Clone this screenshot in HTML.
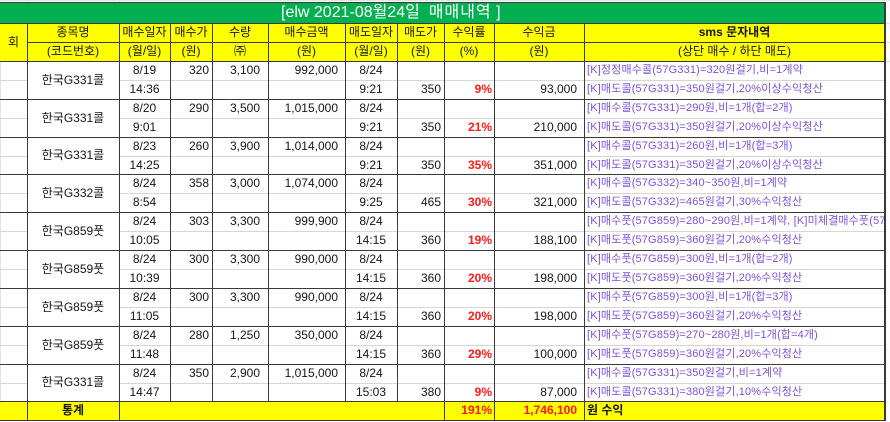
<!DOCTYPE html>
<html><head><meta charset="utf-8">
<style>
*{margin:0;padding:0;box-sizing:border-box}
body{width:890px;height:422px;background:#fff;position:relative;overflow:hidden;font-family:"Liberation Sans","Noto Sans CJK KR",sans-serif}
div{position:absolute}
.t{font-size:12px;line-height:19px;height:19px;white-space:nowrap;color:#151515}
.c{text-align:center}
.r{text-align:right}
.red{color:#ff1a1a;font-weight:bold}
.b{font-weight:bold}
.s{font-size:11px;color:#7d52d6;left:587px;width:297px;overflow:hidden;letter-spacing:0.15px}
.h{background:#3a3a3a;height:1px}
.v{background:#3a3a3a;width:1px}
.lh{background:#d6d6d6;height:1px}
.g{background:#e2e2e2}
</style></head><body>
<div class="g" style="left:0;top:0;width:890px;height:1px"></div>
<div class="g" style="left:27px;top:0;width:1px;height:3px"></div>
<div class="g" style="left:119px;top:0;width:1px;height:3px"></div>
<div class="g" style="left:886px;top:23px;width:4px;height:1px"></div>
<div class="g" style="left:886px;top:42px;width:4px;height:1px"></div>
<div class="g" style="left:886px;top:61px;width:4px;height:1px"></div>
<div class="g" style="left:0;top:61px;width:1px;height:340px"></div>

<div style="left:0;top:2px;width:886px;height:22px;background:#00b050"></div>
<div class="h" style="left:0;top:2px;width:886px"></div>
<div style="left:281px;top:3px;height:20px;line-height:20px;font-size:16px;color:#fff;white-space:nowrap">[elw 2021-08월24일&nbsp; <span style="letter-spacing:1px">매매내역</span> ]</div>

<div style="left:0;top:23px;width:886px;height:38px;background:#ffff00"></div>
<div class="t c" style="left:0;top:23px;width:27px;height:38px;line-height:38px">회</div>
<div class="t c" style="left:27px;top:23px;width:92px">종목명</div>
<div class="t c" style="left:119px;top:23px;width:51px">매수일자</div>
<div class="t c" style="left:170px;top:23px;width:42px">매수가</div>
<div class="t c" style="left:212px;top:23px;width:56px">수량</div>
<div class="t c" style="left:268px;top:23px;width:77px">매수금액</div>
<div class="t c" style="left:345px;top:23px;width:52px">매도일자</div>
<div class="t c" style="left:397px;top:23px;width:47px">매도가</div>
<div class="t c" style="left:444px;top:23px;width:50px">수익률</div>
<div class="t c" style="left:494px;top:23px;width:90px">수익금</div>
<div class="t c b" style="left:584px;top:23px;width:301px">sms 문자내역</div>
<div class="t c" style="left:27px;top:42px;width:92px">(코드번호)</div>
<div class="t c" style="left:119px;top:42px;width:51px">(월/일)</div>
<div class="t c" style="left:170px;top:42px;width:42px">(원)</div>
<div class="t c" style="left:212px;top:42px;width:56px">㈜</div>
<div class="t c" style="left:268px;top:42px;width:77px">(원)</div>
<div class="t c" style="left:345px;top:42px;width:52px">(월/일)</div>
<div class="t c" style="left:397px;top:42px;width:47px">(원)</div>
<div class="t c" style="left:444px;top:42px;width:50px">(%)</div>
<div class="t c" style="left:494px;top:42px;width:90px">(원)</div>
<div class="t c" style="left:584px;top:42px;width:301px">(상단 매수 / 하단 매도)</div>

<div style="left:0;top:401px;width:886px;height:19px;background:#ffff00"></div>
<div class="t c b" style="left:27px;top:401px;width:92px">통계</div>
<div class="t r red" style="left:444px;top:401px;width:48px">191%</div>
<div class="t r red" style="left:494px;top:401px;width:83px">1,746,100</div>
<div class="t b" style="left:587px;top:401px">원 수익</div>

<div class="lh" style="left:0;top:80px;width:27px"></div><div class="lh" style="left:119px;top:80px;width:766px"></div>
<div class="lh" style="left:0;top:118px;width:27px"></div><div class="lh" style="left:119px;top:118px;width:766px"></div>
<div class="lh" style="left:0;top:156px;width:27px"></div><div class="lh" style="left:119px;top:156px;width:766px"></div>
<div class="lh" style="left:0;top:193px;width:27px"></div><div class="lh" style="left:119px;top:193px;width:766px"></div>
<div class="lh" style="left:0;top:231px;width:27px"></div><div class="lh" style="left:119px;top:231px;width:766px"></div>
<div class="lh" style="left:0;top:269px;width:27px"></div><div class="lh" style="left:119px;top:269px;width:766px"></div>
<div class="lh" style="left:0;top:307px;width:27px"></div><div class="lh" style="left:119px;top:307px;width:766px"></div>
<div class="lh" style="left:0;top:345px;width:27px"></div><div class="lh" style="left:119px;top:345px;width:766px"></div>
<div class="lh" style="left:0;top:383px;width:27px"></div><div class="lh" style="left:119px;top:383px;width:766px"></div>

<div class="t c" style="left:27px;top:61px;width:92px;height:38px;line-height:38px">한국G331콜</div>
<div class="t c" style="left:119px;top:61px;width:51px">8/19</div>
<div class="t c" style="left:119px;top:80px;width:51px">14:36</div>
<div class="t r" style="left:170px;top:61px;width:39px">320</div>
<div class="t r" style="left:212px;top:61px;width:48px">3,100</div>
<div class="t r" style="left:268px;top:61px;width:70px">992,000</div>
<div class="t c" style="left:345px;top:61px;width:52px">8/24</div>
<div class="t c" style="left:345px;top:80px;width:52px">9:21</div>
<div class="t r" style="left:397px;top:80px;width:44px">350</div>
<div class="t r red" style="left:444px;top:80px;width:48px">9%</div>
<div class="t r" style="left:494px;top:80px;width:83px">93,000</div>
<div class="t s" style="top:61px">[K]정정매수콜(57G331)=320원걸기,비=1계약</div>
<div class="t s" style="top:80px">[K]매도콜(57G331)=350원걸기,20%이상수익청산</div>

<div class="t c" style="left:27px;top:99px;width:92px;height:38px;line-height:38px">한국G331콜</div>
<div class="t c" style="left:119px;top:99px;width:51px">8/20</div>
<div class="t c" style="left:119px;top:118px;width:51px">9:01</div>
<div class="t r" style="left:170px;top:99px;width:39px">290</div>
<div class="t r" style="left:212px;top:99px;width:48px">3,500</div>
<div class="t r" style="left:268px;top:99px;width:70px">1,015,000</div>
<div class="t c" style="left:345px;top:99px;width:52px">8/24</div>
<div class="t c" style="left:345px;top:118px;width:52px">9:21</div>
<div class="t r" style="left:397px;top:118px;width:44px">350</div>
<div class="t r red" style="left:444px;top:118px;width:48px">21%</div>
<div class="t r" style="left:494px;top:118px;width:83px">210,000</div>
<div class="t s" style="top:99px">[K]매수콜(57G331)=290원,비=1개(합=2개)</div>
<div class="t s" style="top:118px">[K]매도콜(57G331)=350원걸기,20%이상수익청산</div>

<div class="t c" style="left:27px;top:137px;width:92px;height:37px;line-height:37px">한국G331콜</div>
<div class="t c" style="left:119px;top:137px;width:51px">8/23</div>
<div class="t c" style="left:119px;top:156px;width:51px">14:25</div>
<div class="t r" style="left:170px;top:137px;width:39px">260</div>
<div class="t r" style="left:212px;top:137px;width:48px">3,900</div>
<div class="t r" style="left:268px;top:137px;width:70px">1,014,000</div>
<div class="t c" style="left:345px;top:137px;width:52px">8/24</div>
<div class="t c" style="left:345px;top:156px;width:52px">9:21</div>
<div class="t r" style="left:397px;top:156px;width:44px">350</div>
<div class="t r red" style="left:444px;top:156px;width:48px">35%</div>
<div class="t r" style="left:494px;top:156px;width:83px">351,000</div>
<div class="t s" style="top:137px">[K]매수콜(57G331)=260원,비=1개(합=3개)</div>
<div class="t s" style="top:156px">[K]매도콜(57G331)=350원걸기,20%이상수익청산</div>

<div class="t c" style="left:27px;top:174px;width:92px;height:38px;line-height:38px">한국G332콜</div>
<div class="t c" style="left:119px;top:174px;width:51px">8/24</div>
<div class="t c" style="left:119px;top:193px;width:51px">8:54</div>
<div class="t r" style="left:170px;top:174px;width:39px">358</div>
<div class="t r" style="left:212px;top:174px;width:48px">3,000</div>
<div class="t r" style="left:268px;top:174px;width:70px">1,074,000</div>
<div class="t c" style="left:345px;top:174px;width:52px">8/24</div>
<div class="t c" style="left:345px;top:193px;width:52px">9:25</div>
<div class="t r" style="left:397px;top:193px;width:44px">465</div>
<div class="t r red" style="left:444px;top:193px;width:48px">30%</div>
<div class="t r" style="left:494px;top:193px;width:83px">321,000</div>
<div class="t s" style="top:174px">[K]매수콜(57G332)=340~350원,비=1계약</div>
<div class="t s" style="top:193px">[K]매도콜(57G332)=465원걸기,30%수익청산</div>

<div class="t c" style="left:27px;top:212px;width:92px;height:38px;line-height:38px">한국G859풋</div>
<div class="t c" style="left:119px;top:212px;width:51px">8/24</div>
<div class="t c" style="left:119px;top:231px;width:51px">10:05</div>
<div class="t r" style="left:170px;top:212px;width:39px">303</div>
<div class="t r" style="left:212px;top:212px;width:48px">3,300</div>
<div class="t r" style="left:268px;top:212px;width:70px">999,900</div>
<div class="t c" style="left:345px;top:212px;width:52px">8/24</div>
<div class="t c" style="left:345px;top:231px;width:52px">14:15</div>
<div class="t r" style="left:397px;top:231px;width:44px">360</div>
<div class="t r red" style="left:444px;top:231px;width:48px">19%</div>
<div class="t r" style="left:494px;top:231px;width:83px">188,100</div>
<div class="t s" style="top:212px">[K]매수풋(57G859)=280~290원,비=1계약, [K]미체결매수풋(57G859)</div>
<div class="t s" style="top:231px">[K]매도풋(57G859)=360원걸기,20%수익청산</div>

<div class="t c" style="left:27px;top:250px;width:92px;height:38px;line-height:38px">한국G859풋</div>
<div class="t c" style="left:119px;top:250px;width:51px">8/24</div>
<div class="t c" style="left:119px;top:269px;width:51px">10:39</div>
<div class="t r" style="left:170px;top:250px;width:39px">300</div>
<div class="t r" style="left:212px;top:250px;width:48px">3,300</div>
<div class="t r" style="left:268px;top:250px;width:70px">990,000</div>
<div class="t c" style="left:345px;top:250px;width:52px">8/24</div>
<div class="t c" style="left:345px;top:269px;width:52px">14:15</div>
<div class="t r" style="left:397px;top:269px;width:44px">360</div>
<div class="t r red" style="left:444px;top:269px;width:48px">20%</div>
<div class="t r" style="left:494px;top:269px;width:83px">198,000</div>
<div class="t s" style="top:250px">[K]매수풋(57G859)=300원,비=1개(합=2개)</div>
<div class="t s" style="top:269px">[K]매도풋(57G859)=360원걸기,20%수익청산</div>

<div class="t c" style="left:27px;top:288px;width:92px;height:38px;line-height:38px">한국G859풋</div>
<div class="t c" style="left:119px;top:288px;width:51px">8/24</div>
<div class="t c" style="left:119px;top:307px;width:51px">11:05</div>
<div class="t r" style="left:170px;top:288px;width:39px">300</div>
<div class="t r" style="left:212px;top:288px;width:48px">3,300</div>
<div class="t r" style="left:268px;top:288px;width:70px">990,000</div>
<div class="t c" style="left:345px;top:288px;width:52px">8/24</div>
<div class="t c" style="left:345px;top:307px;width:52px">14:15</div>
<div class="t r" style="left:397px;top:307px;width:44px">360</div>
<div class="t r red" style="left:444px;top:307px;width:48px">20%</div>
<div class="t r" style="left:494px;top:307px;width:83px">198,000</div>
<div class="t s" style="top:288px">[K]매수풋(57G859)=300원,비=1개(합=3개)</div>
<div class="t s" style="top:307px">[K]매도풋(57G859)=360원걸기,20%수익청산</div>

<div class="t c" style="left:27px;top:326px;width:92px;height:38px;line-height:38px">한국G859풋</div>
<div class="t c" style="left:119px;top:326px;width:51px">8/24</div>
<div class="t c" style="left:119px;top:345px;width:51px">11:48</div>
<div class="t r" style="left:170px;top:326px;width:39px">280</div>
<div class="t r" style="left:212px;top:326px;width:48px">1,250</div>
<div class="t r" style="left:268px;top:326px;width:70px">350,000</div>
<div class="t c" style="left:345px;top:326px;width:52px">8/24</div>
<div class="t c" style="left:345px;top:345px;width:52px">14:15</div>
<div class="t r" style="left:397px;top:345px;width:44px">360</div>
<div class="t r red" style="left:444px;top:345px;width:48px">29%</div>
<div class="t r" style="left:494px;top:345px;width:83px">100,000</div>
<div class="t s" style="top:326px">[K]매수풋(57G859)=270~280원,비=1개(합=4개)</div>
<div class="t s" style="top:345px">[K]매도풋(57G859)=360원걸기,20%수익청산</div>

<div class="t c" style="left:27px;top:364px;width:92px;height:37px;line-height:37px">한국G331콜</div>
<div class="t c" style="left:119px;top:364px;width:51px">8/24</div>
<div class="t c" style="left:119px;top:383px;width:51px">14:47</div>
<div class="t r" style="left:170px;top:364px;width:39px">350</div>
<div class="t r" style="left:212px;top:364px;width:48px">2,900</div>
<div class="t r" style="left:268px;top:364px;width:70px">1,015,000</div>
<div class="t c" style="left:345px;top:364px;width:52px">8/24</div>
<div class="t c" style="left:345px;top:383px;width:52px">15:03</div>
<div class="t r" style="left:397px;top:383px;width:44px">380</div>
<div class="t r red" style="left:444px;top:383px;width:48px">9%</div>
<div class="t r" style="left:494px;top:383px;width:83px">87,000</div>
<div class="t s" style="top:364px">[K]매수콜(57G331)=350원걸기,비=1계약</div>
<div class="t s" style="top:383px">[K]매도콜(57G331)=380원걸기,10%수익청산</div>

<div class="h" style="left:0;top:23px;width:886px"></div>
<div class="h" style="left:27px;top:42px;width:859px"></div>
<div class="h" style="left:0;top:61px;width:886px"></div>
<div class="h" style="left:0;top:99px;width:886px"></div>
<div class="h" style="left:0;top:137px;width:886px"></div>
<div class="h" style="left:0;top:174px;width:886px"></div>
<div class="h" style="left:0;top:212px;width:886px"></div>
<div class="h" style="left:0;top:250px;width:886px"></div>
<div class="h" style="left:0;top:288px;width:886px"></div>
<div class="h" style="left:0;top:326px;width:886px"></div>
<div class="h" style="left:0;top:364px;width:886px"></div>
<div class="h" style="left:0;top:401px;width:886px"></div>
<div class="h" style="left:0;top:420px;width:886px"></div>

<div class="v" style="left:27px;top:23px;height:398px"></div>
<div class="v" style="left:119px;top:23px;height:398px"></div>
<div class="v" style="left:170px;top:23px;height:378px"></div>
<div class="v" style="left:212px;top:23px;height:378px"></div>
<div class="v" style="left:268px;top:23px;height:378px"></div>
<div class="v" style="left:345px;top:23px;height:378px"></div>
<div class="v" style="left:397px;top:23px;height:378px"></div>
<div class="v" style="left:444px;top:23px;height:398px"></div>
<div class="v" style="left:494px;top:23px;height:398px"></div>
<div class="v" style="left:584px;top:23px;height:398px"></div>
<div class="v" style="left:884px;top:2px;width:2px;height:419px"></div>
</body></html>
